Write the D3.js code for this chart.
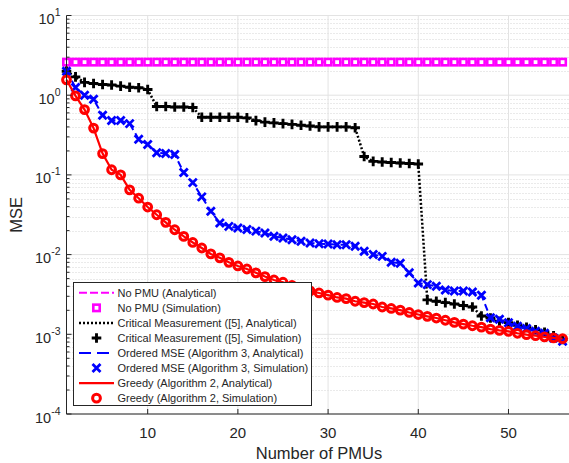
<!DOCTYPE html>
<html lang="en">
<head>
<meta charset="UTF-8">
<title>MSE vs Number of PMUs</title>
<script src="https://d3js.org/d3.v7.min.js"></script>
<style>
  body { margin: 0; background: #fff; }
  svg { display: block; font-family: "Liberation Sans", Arial, Helvetica, sans-serif; }
</style>
</head>
<body>
<div id="chart"></div>
<script>
// --- Data ---
const pmuCounts = d3.range(1, 57); // 1..56

const noPmu = [2.6,2.6,2.6,2.6,2.6,2.6,2.6,2.6,2.6,2.6,2.6,2.6,2.6,2.6,2.6,2.6,2.6,2.6,2.6,2.6,
  2.6,2.6,2.6,2.6,2.6,2.6,2.6,2.6,2.6,2.6,2.6,2.6,2.6,2.6,2.6,2.6,2.6,2.6,2.6,2.6,
  2.6,2.6,2.6,2.6,2.6,2.6,2.6,2.6,2.6,2.6,2.6,2.6,2.6,2.6,2.6,2.6];

const criticalMse = [2.0,1.7,1.45,1.40,1.36,1.34,1.30,1.26,1.24,1.18,
  0.72,0.72,0.71,0.71,0.70,0.53,0.53,0.53,0.53,0.53,
  0.52,0.48,0.46,0.45,0.44,0.43,0.42,0.41,0.40,0.40,
  0.40,0.40,0.39,0.17,0.148,0.145,0.143,0.141,0.139,0.137,
  0.0027,0.0026,0.0025,0.0024,0.0023,0.0022,0.0017,0.0016,0.00146,0.0014,
  0.0013,0.00122,0.00114,0.00106,0.00096,0.00086];

const orderedMse = [2.0,1.25,1.0,0.89,0.56,0.48,0.48,0.44,0.28,0.24,
  0.19,0.185,0.18,0.107,0.080,0.053,0.035,0.0249,0.0226,0.0216,
  0.0206,0.0197,0.0187,0.0170,0.0162,0.0154,0.0147,0.0140,0.0137,0.0136,
  0.0133,0.0133,0.0127,0.0110,0.0100,0.0095,0.0080,0.0078,0.0059,0.0044,
  0.0042,0.0040,0.0036,0.0035,0.0035,0.0034,0.0031,0.00161,0.00154,0.00140,
  0.00126,0.00118,0.00109,0.00103,0.00090,0.00082];

const greedyMse = [1.56,0.98,0.66,0.387,0.185,0.116,0.10,0.065,0.051,0.0395,
  0.0316,0.0254,0.0205,0.0169,0.0142,0.0121,0.0102,0.0091,0.0080,0.0072,
  0.0066,0.0059,0.0053,0.0048,0.0045,0.0041,0.0038,0.0035,0.0033,0.0031,
  0.0029,0.0028,0.0026,0.0025,0.0024,0.0022,0.00211,0.00201,0.00188,0.00177,
  0.00168,0.00160,0.00150,0.00141,0.00134,0.00128,0.00123,0.00116,0.00112,0.00109,
  0.00103,0.00099,0.00096,0.00093,0.00090,0.00088];

const xTicks = [10, 20, 30, 40, 50];
const yTickExps = [1, 0, -1, -2, -3, -4];

const legendLabels = [
  "No PMU (Analytical)",
  "No PMU (Simulation)",
  "Critical Measurement ([5], Analytical)",
  "Critical Measurement ([5], Simulation)",
  "Ordered MSE (Algorithm 3, Analytical)",
  "Ordered MSE (Algorithm 3, Simulation)",
  "Greedy (Algorithm 2, Analytical)",
  "Greedy (Algorithm 2, Simulation)"
];

// --- Layout ---
const W = 569, H = 463;
const plot = { left: 66.5, top: 15.5, bottom: 414 };

const svg = d3.select("#chart").append("svg")
  .attr("width", W).attr("height", H);

const x = d3.scaleLinear().domain([1, 57]).range([plot.left, plot.left + 56 * 9.02]);
const y = d3.scaleLog().domain([1e-4, 10]).range([plot.bottom, plot.top]);

// --- Grid ---
const grid = svg.append("g");
const minorVals = [];
for (let e = -4; e < 1; e++) for (let m = 2; m <= 9; m++) minorVals.push(m * Math.pow(10, e));

grid.selectAll(".minor").data(minorVals).join("line")
  .attr("x1", plot.left).attr("x2", W)
  .attr("y1", d => Math.round(y(d)) + 0.5).attr("y2", d => Math.round(y(d)) + 0.5)
  .attr("stroke", "#d4d4d4").attr("stroke-width", 1).attr("stroke-dasharray", "1,2");

grid.selectAll(".major").data(yTickExps).join("line")
  .attr("x1", plot.left).attr("x2", W)
  .attr("y1", d => y(Math.pow(10, d))).attr("y2", d => y(Math.pow(10, d)))
  .attr("stroke", "#e3e3e3").attr("stroke-width", 1);

grid.selectAll(".vmajor").data(xTicks).join("line")
  .attr("x1", d => x(d)).attr("x2", d => x(d))
  .attr("y1", plot.top).attr("y2", plot.bottom)
  .attr("stroke", "#e3e3e3").attr("stroke-width", 1);

// --- Series ---
const line = vals => d3.line().x((d, i) => x(pmuCounts[i])).y(d => y(d))(vals);
const series = svg.append("g");

// No PMU
series.append("path").attr("d", line(noPmu)).attr("fill", "none")
  .attr("stroke", "#ff00ff").attr("stroke-width", 2).attr("stroke-dasharray", "8,3");
series.append("g").selectAll("rect").data(noPmu).join("rect")
  .attr("x", (d, i) => x(pmuCounts[i]) - 3.2).attr("y", d => y(d) - 3.2)
  .attr("width", 6.4).attr("height", 6.4)
  .attr("fill", "#fff").attr("stroke", "#ff00ff").attr("stroke-width", 2.6);

// Critical measurement
series.append("path").attr("d", line(criticalMse)).attr("fill", "none")
  .attr("stroke", "#000").attr("stroke-width", 2.5).attr("stroke-dasharray", "2,2");
const plus = (cx, cy, s) => `M${cx - s},${cy}H${cx + s}M${cx},${cy - s}V${cy + s}`;
series.append("g").selectAll("path").data(criticalMse).join("path")
  .attr("d", (d, i) => plus(x(pmuCounts[i]), y(d), 4.8))
  .attr("stroke", "#000").attr("stroke-width", 2.9).attr("fill", "none");

// Ordered MSE
series.append("path").attr("d", line(orderedMse)).attr("fill", "none")
  .attr("stroke", "#0000ff").attr("stroke-width", 2).attr("stroke-dasharray", "7,4");
const cross = (cx, cy, s) => `M${cx - s},${cy - s}L${cx + s},${cy + s}M${cx - s},${cy + s}L${cx + s},${cy - s}`;
series.append("g").selectAll("path").data(orderedMse).join("path")
  .attr("d", (d, i) => cross(x(pmuCounts[i]), y(d), 4))
  .attr("stroke", "#0000ff").attr("stroke-width", 2.8).attr("fill", "none");

// Greedy
series.append("path").attr("d", line(greedyMse)).attr("fill", "none")
  .attr("stroke", "#ff0000").attr("stroke-width", 2.2);
series.append("g").selectAll("circle").data(greedyMse).join("circle")
  .attr("cx", (d, i) => x(pmuCounts[i])).attr("cy", d => y(d)).attr("r", 3.9)
  .attr("fill", "none").attr("stroke", "#ff0000").attr("stroke-width", 3);

// --- Axes ---
const axisColor = "#262626";
const axes = svg.append("g");
axes.append("line").attr("x1", plot.left).attr("x2", plot.left)
  .attr("y1", plot.top).attr("y2", plot.bottom).attr("stroke", axisColor);
axes.append("line").attr("x1", plot.left).attr("x2", W)
  .attr("y1", plot.bottom).attr("y2", plot.bottom).attr("stroke", axisColor);

// y ticks (inside)
axes.selectAll(".ymaj").data(yTickExps).join("line")
  .attr("x1", plot.left).attr("x2", plot.left + 5)
  .attr("y1", d => y(Math.pow(10, d))).attr("y2", d => y(Math.pow(10, d)))
  .attr("stroke", axisColor);
axes.selectAll(".ymin").data(minorVals).join("line")
  .attr("x1", plot.left).attr("x2", plot.left + 3)
  .attr("y1", d => y(d)).attr("y2", d => y(d))
  .attr("stroke", axisColor);

// x ticks (inside)
axes.selectAll(".xmaj").data(xTicks).join("line")
  .attr("x1", d => x(d)).attr("x2", d => x(d))
  .attr("y1", plot.bottom).attr("y2", plot.bottom - 5)
  .attr("stroke", axisColor);

axes.selectAll(".xlab").data(xTicks).join("text")
  .attr("x", d => x(d)).attr("y", plot.bottom + 24)
  .attr("text-anchor", "middle").attr("font-size", 15).attr("fill", axisColor)
  .text(d => d);

const ylab = axes.selectAll(".ylab").data(yTickExps).join("text")
  .attr("x", plot.left - 6).attr("y", d => y(Math.pow(10, d)) + 8.5)
  .attr("text-anchor", "end").attr("font-size", 14.5).attr("fill", axisColor);
ylab.append("tspan").text("10");
ylab.append("tspan").attr("dy", -8).attr("font-size", 10.5).text(d => d);

svg.append("text")
  .attr("x", 319).attr("y", 459)
  .attr("text-anchor", "middle").attr("font-size", 16.5).attr("fill", axisColor)
  .text("Number of PMUs");

svg.append("text")
  .attr("transform", `translate(22,${(plot.top + plot.bottom) / 2}) rotate(-90)`)
  .attr("text-anchor", "middle").attr("font-size", 16.5).attr("fill", axisColor)
  .text("MSE");

// --- Legend ---
const lg = svg.append("g");
lg.append("rect").attr("x", 73.5).attr("y", 282.5).attr("width", 238).attr("height", 123)
  .attr("fill", "#fff").attr("stroke", axisColor).attr("stroke-width", 1);

const rowY = i => 292.8 + i * 15.05;
const sx1 = 79, sx2 = 114, sm = 96.5;
const row = lg.selectAll(".row").data(legendLabels).join("g");
row.append("text").attr("x", 117.5).attr("y", (d, i) => rowY(i) + 4)
  .attr("font-size", 11).attr("fill", axisColor).text(d => d);

lg.append("line").attr("x1", sx1).attr("x2", sx2).attr("y1", rowY(0)).attr("y2", rowY(0))
  .attr("stroke", "#ff00ff").attr("stroke-width", 2).attr("stroke-dasharray", "8,3");
lg.append("rect").attr("x", sm - 3.2).attr("y", rowY(1) - 3.2).attr("width", 6.4).attr("height", 6.4)
  .attr("fill", "#fff").attr("stroke", "#ff00ff").attr("stroke-width", 2.6);
lg.append("line").attr("x1", sx1).attr("x2", sx2).attr("y1", rowY(2)).attr("y2", rowY(2))
  .attr("stroke", "#000").attr("stroke-width", 2.5).attr("stroke-dasharray", "2,2");
lg.append("path").attr("d", plus(sm, rowY(3), 4.8))
  .attr("stroke", "#000").attr("stroke-width", 2.9);
lg.append("line").attr("x1", sx1).attr("x2", sx2).attr("y1", rowY(4)).attr("y2", rowY(4))
  .attr("stroke", "#0000ff").attr("stroke-width", 2).attr("stroke-dasharray", "12,6");
lg.append("path").attr("d", cross(sm, rowY(5), 4))
  .attr("stroke", "#0000ff").attr("stroke-width", 2.8);
lg.append("line").attr("x1", sx1).attr("x2", sx2).attr("y1", rowY(6)).attr("y2", rowY(6))
  .attr("stroke", "#ff0000").attr("stroke-width", 2.2);
lg.append("circle").attr("cx", sm).attr("cy", rowY(7)).attr("r", 3.9)
  .attr("fill", "none").attr("stroke", "#ff0000").attr("stroke-width", 3);
</script>
</body>
</html>
